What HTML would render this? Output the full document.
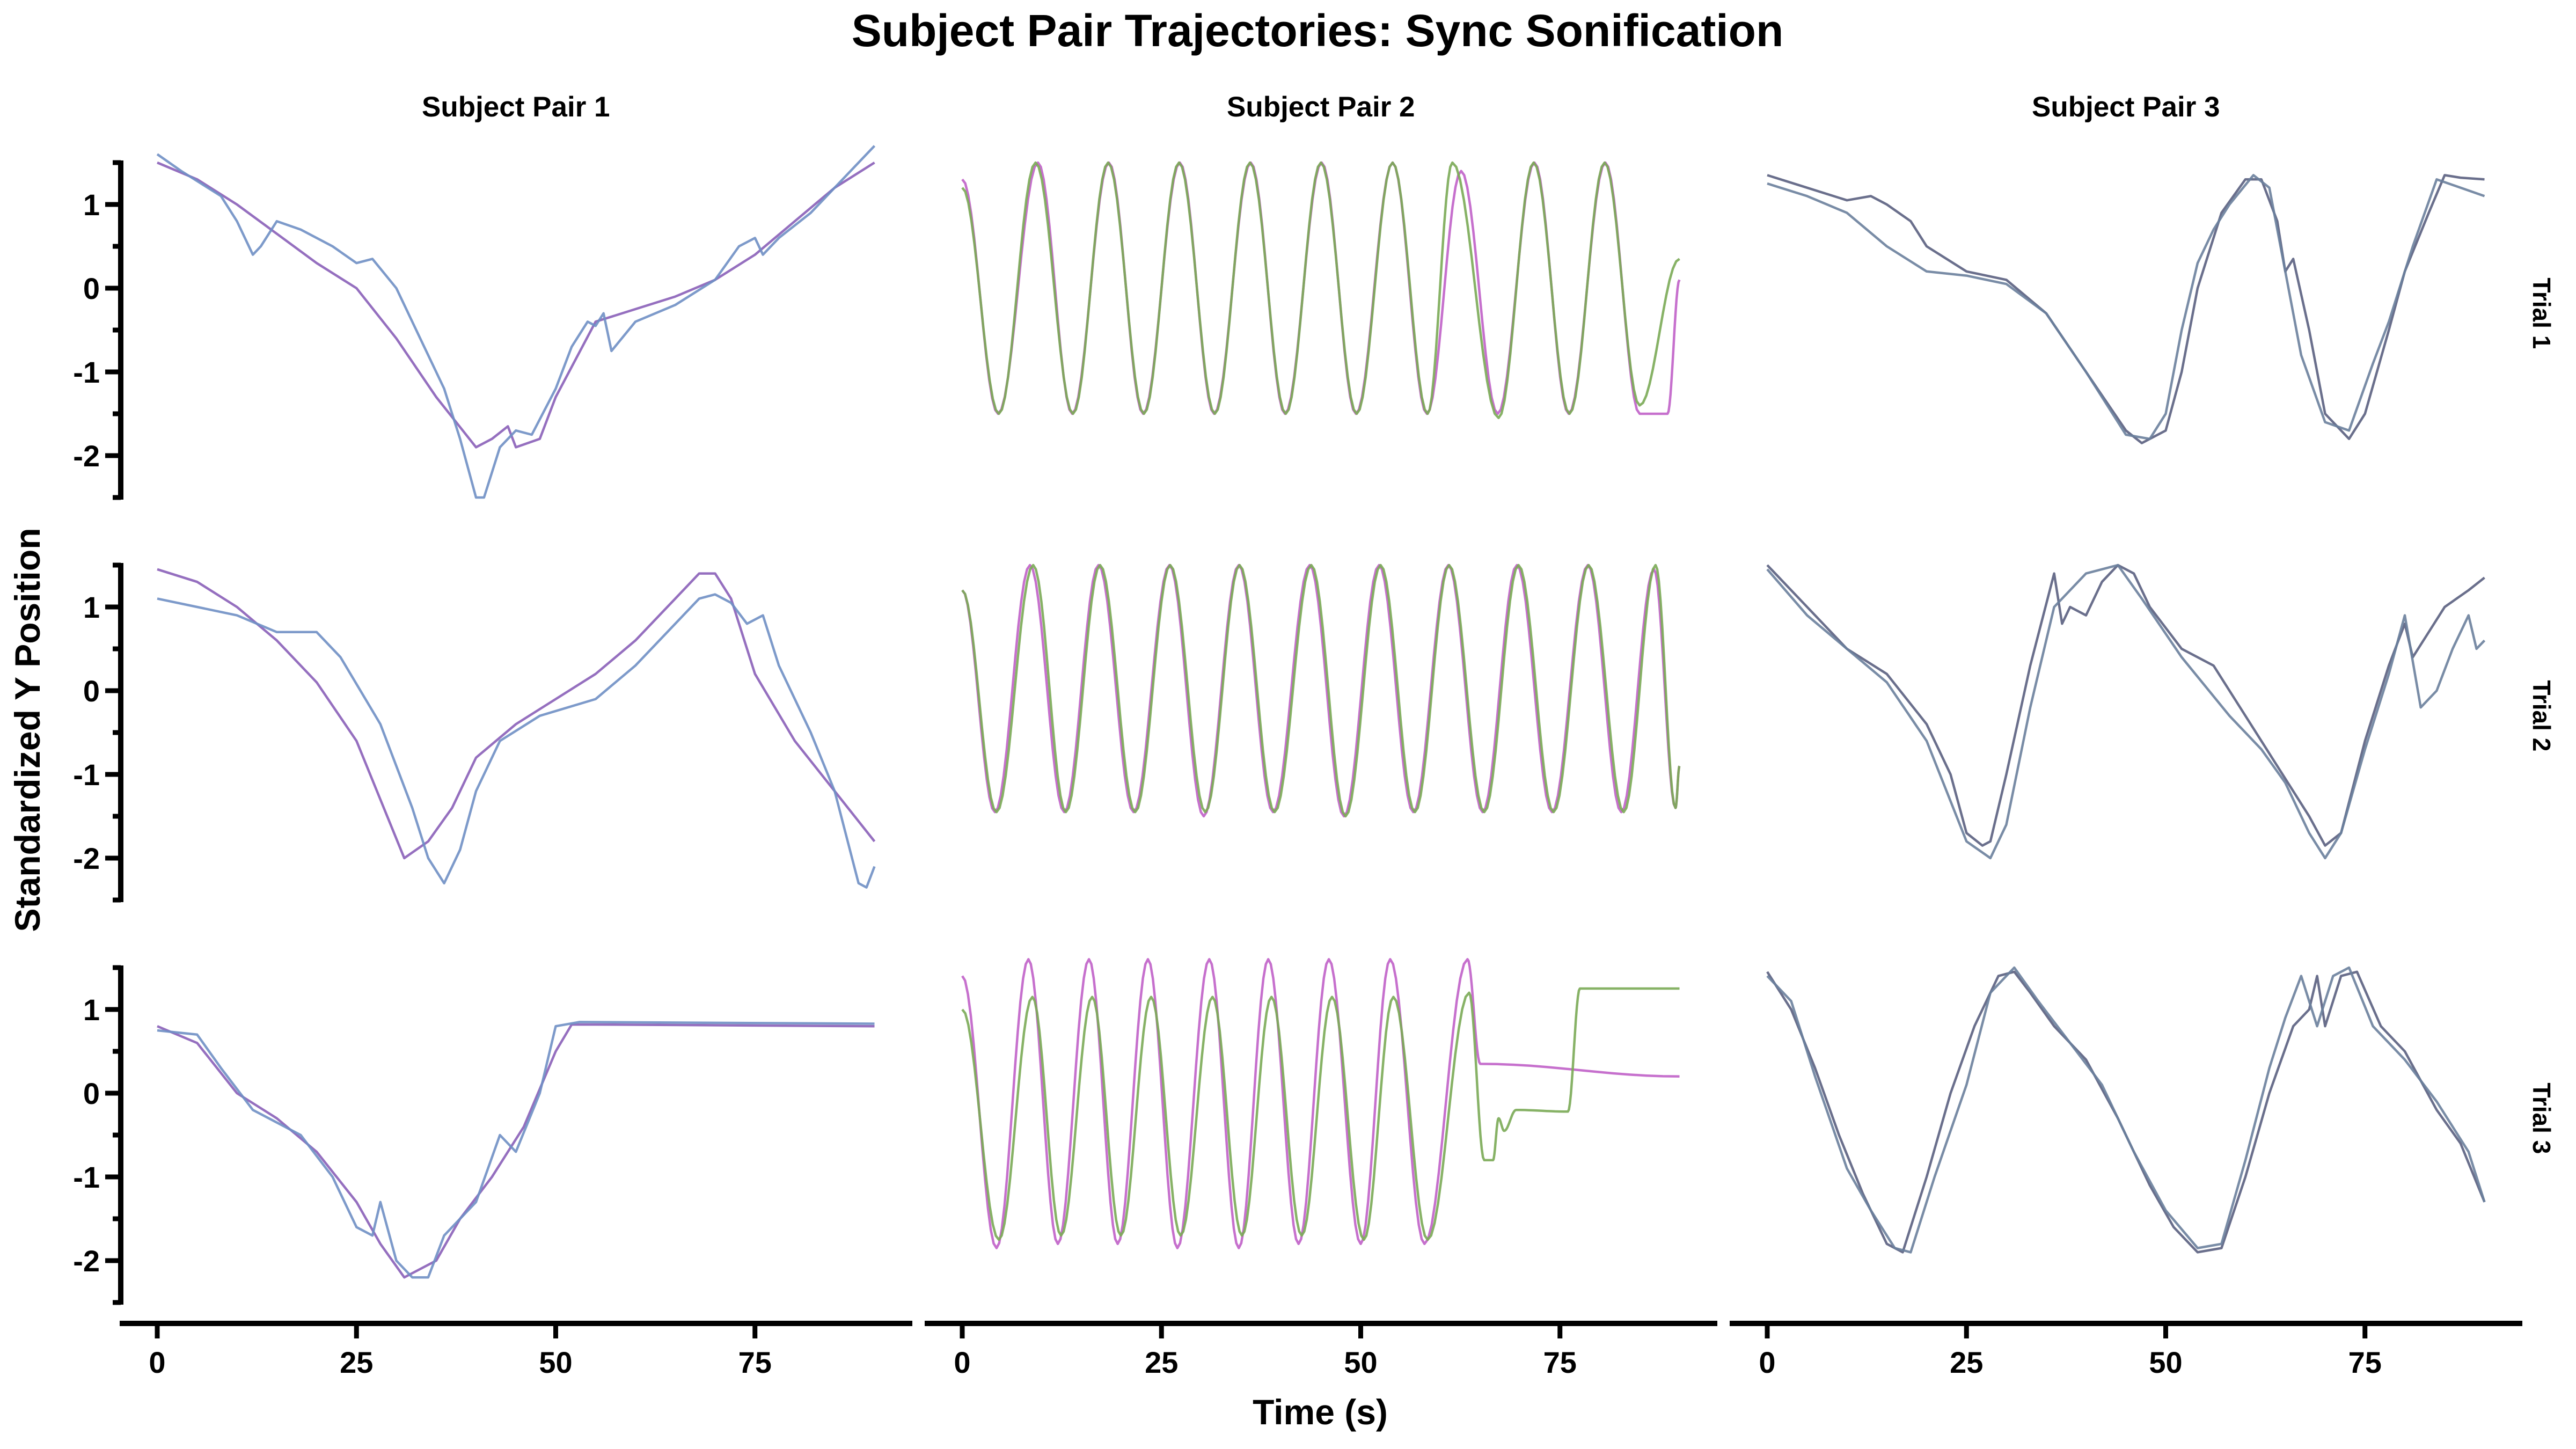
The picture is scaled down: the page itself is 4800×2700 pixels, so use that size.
<!DOCTYPE html>
<html><head><meta charset="utf-8"><style>
html,body{margin:0;padding:0;background:#fff;}
svg{display:block;font-family:"Liberation Sans",Arial,sans-serif;}
</style></head><body>
<svg id="chart" width="4800" height="2700" viewBox="0 0 4800 2700" xmlns="http://www.w3.org/2000/svg">
<text x="2455" y="86" text-anchor="middle" font-size="84" font-weight="bold">Subject Pair Trajectories: Sync Sonification</text>
<text transform="translate(74,1360) rotate(-90)" text-anchor="middle" font-size="66" font-weight="bold">Standardized Y Position</text>
<text x="2460" y="2654" text-anchor="middle" font-size="66" font-weight="bold">Time (s)</text>
<g id="panels"></g>
</svg>
<script>
const colTitles=["Subject Pair 1","Subject Pair 2","Subject Pair 3"];
const rowTitles=["Trial 1","Trial 2","Trial 3"];
const xTicks=[0,25,50,75];
const yTicks=[1,0,-1,-2];
const yMinor=[1.5,0.5,-0.5,-1.5,-2.5];
// Pair 1
const p1t1a=[[0,1.5],[5,1.3],[10,1.0],[15,0.65],[20,0.3],[25,0],[30,-0.6],[35,-1.3],[40,-1.9],[42,-1.8],[44,-1.65],[45,-1.9],[48,-1.8],[50,-1.3],[55,-0.4],[60,-0.25],[65,-0.1],[70,0.1],[75,0.4],[80,0.8],[85,1.2],[90,1.5]];
const p1t1b=[[0,1.6],[3,1.4],[8,1.1],[10,0.8],[12,0.4],[13,0.5],[15,0.8],[18,0.7],[22,0.5],[25,0.3],[27,0.35],[30,0.0],[33,-0.6],[36,-1.2],[38,-1.8],[40,-2.5],[41,-2.5],[43,-1.9],[45,-1.7],[47,-1.75],[50,-1.2],[52,-0.7],[54,-0.4],[55,-0.45],[56,-0.3],[57,-0.75],[60,-0.4],[65,-0.2],[70,0.1],[73,0.5],[75,0.6],[76,0.4],[78,0.6],[82,0.9],[86,1.3],[90,1.7]];
const p1t2a=[[0,1.45],[5,1.3],[10,1.0],[15,0.6],[20,0.1],[25,-0.6],[28,-1.3],[31,-2.0],[34,-1.8],[37,-1.4],[40,-0.8],[45,-0.4],[50,-0.1],[55,0.2],[60,0.6],[65,1.1],[68,1.4],[70,1.4],[72,1.1],[75,0.2],[80,-0.6],[85,-1.2],[90,-1.8]];
const p1t2b=[[0,1.1],[5,1.0],[10,0.9],[15,0.7],[20,0.7],[23,0.4],[28,-0.4],[32,-1.4],[34,-2.0],[36,-2.3],[38,-1.9],[40,-1.2],[43,-0.6],[48,-0.3],[55,-0.1],[60,0.3],[65,0.8],[68,1.1],[70,1.15],[72,1.05],[74,0.8],[76,0.9],[78,0.3],[82,-0.5],[85,-1.2],[88,-2.3],[89,-2.35],[90,-2.1]];
const p1t3a=[[0,0.8],[5,0.6],[10,0.0],[15,-0.3],[20,-0.7],[25,-1.3],[28,-1.8],[31,-2.2],[35,-2.0],[38,-1.5],[42,-1.0],[46,-0.4],[50,0.5],[52,0.82],[55,0.82],[90,0.8]];
const p1t3b=[[0,0.75],[5,0.7],[8,0.3],[12,-0.2],[18,-0.5],[22,-1.0],[25,-1.6],[27,-1.7],[28,-1.3],[30,-2.0],[32,-2.2],[34,-2.2],[36,-1.7],[40,-1.3],[43,-0.5],[45,-0.7],[48,0.0],[50,0.8],[53,0.85],[90,0.83]];
// Pair 2 (extrema; drawn with smooth interpolation)
const p2t1a=[[0,1.3],[4.5,-1.5],[9.5,1.5],[13.8,-1.5],[18.4,1.5],[22.7,-1.5],[27.3,1.5],[31.6,-1.5],[36.2,1.5],[40.5,-1.5],[45.1,1.5],[49.4,-1.5],[54,1.5],[58.3,-1.5],[62.6,1.4],[67.2,-1.5],[71.8,1.5],[76.1,-1.5],[80.7,1.5],[85,-1.5],[88.5,-1.5],[90,0.1]];
const p2t1b=[[0,1.2],[4.6,-1.5],[9.2,1.5],[13.9,-1.5],[18.3,1.5],[22.8,-1.5],[27.2,1.5],[31.7,-1.5],[36.1,1.5],[40.6,-1.5],[45,1.5],[49.5,-1.5],[54,1.5],[58.4,-1.5],[61.5,1.5],[67.3,-1.55],[71.7,1.5],[76.2,-1.5],[80.6,1.5],[85,-1.4],[90,0.35]];
const p2t2a=[[0,1.2],[4.1,-1.45],[8.5,1.5],[12.8,-1.45],[17.1,1.5],[21.5,-1.45],[26,1.5],[30.3,-1.5],[34.7,1.5],[39,-1.45],[43.6,1.5],[47.9,-1.5],[52.3,1.5],[56.6,-1.45],[61,1.5],[65.3,-1.45],[69.6,1.5],[74,-1.45],[78.5,1.5],[82.7,-1.45],[86.8,1.45],[89.5,-1.4],[90,-0.9]];
const p2t2b=[[0,1.2],[4.3,-1.45],[8.9,1.5],[13,-1.45],[17.3,1.5],[21.7,-1.45],[26.1,1.5],[30.5,-1.45],[34.8,1.5],[39.2,-1.45],[43.8,1.5],[48.1,-1.5],[52.5,1.5],[56.8,-1.45],[61.1,1.5],[65.5,-1.45],[69.8,1.5],[74.2,-1.45],[78.6,1.5],[83,-1.45],[87,1.5],[89.5,-1.4],[90,-0.9]];
const p2t3a=[[0,1.4],[4.3,-1.85],[8.3,1.6],[12,-1.8],[15.9,1.6],[19.5,-1.8],[23.3,1.6],[27,-1.85],[31,1.6],[34.7,-1.85],[38.4,1.6],[42.2,-1.8],[46,1.6],[50,-1.8],[53.7,1.6],[58,-1.8],[63.4,1.6],[65,0.35],[90,0.2]];
const p2t3b=[[0,1.0],[4.6,-1.75],[8.8,1.15],[12.4,-1.7],[16.3,1.15],[19.9,-1.7],[23.7,1.15],[27.4,-1.7],[31.4,1.15],[35.1,-1.7],[38.8,1.15],[42.6,-1.7],[46.4,1.15],[50.4,-1.75],[54.1,1.15],[58.4,-1.75],[63.6,1.2],[65.5,-0.8],[66.6,-0.8],[67.3,-0.3],[68,-0.45],[69.5,-0.2],[76,-0.22],[77.5,1.25],[90,1.25]];
// Pair 3
const p3t1a=[[0,1.35],[5,1.2],[10,1.05],[13,1.1],[15,1.0],[18,0.8],[20,0.5],[25,0.2],[30,0.1],[35,-0.3],[40,-1.0],[45,-1.7],[47,-1.85],[50,-1.7],[52,-1.0],[54,0.0],[57,0.9],[60,1.3],[62,1.3],[64,0.8],[65,0.2],[66,0.35],[68,-0.5],[70,-1.5],[73,-1.8],[75,-1.5],[78,-0.5],[80,0.2],[83,0.9],[85,1.35],[87,1.32],[90,1.3]];
const p3t1b=[[0,1.25],[5,1.1],[10,0.9],[15,0.5],[20,0.2],[25,0.15],[30,0.05],[35,-0.3],[40,-1.0],[45,-1.75],[48,-1.8],[50,-1.5],[52,-0.5],[54,0.3],[56,0.7],[58,1.0],[61,1.35],[63,1.2],[65,0.2],[67,-0.8],[70,-1.6],[73,-1.7],[76,-0.9],[78,-0.4],[81,0.5],[84,1.3],[87,1.2],[90,1.1]];
const p3t2a=[[0,1.5],[5,1.0],[10,0.5],[15,0.2],[20,-0.4],[23,-1.0],[25,-1.7],[27,-1.85],[28,-1.8],[30,-1.0],[33,0.3],[36,1.4],[37,0.8],[38,1.0],[40,0.9],[42,1.3],[44,1.5],[46,1.4],[48,1.0],[52,0.5],[56,0.3],[60,-0.3],[64,-0.9],[68,-1.5],[70,-1.85],[72,-1.7],[75,-0.6],[78,0.3],[80,0.8],[81,0.4],[83,0.7],[85,1.0],[88,1.2],[90,1.35]];
const p3t2b=[[0,1.45],[5,0.9],[10,0.5],[15,0.1],[20,-0.6],[25,-1.8],[28,-2.0],[30,-1.6],[33,-0.2],[36,1.0],[40,1.4],[44,1.5],[47,1.1],[52,0.4],[58,-0.3],[62,-0.7],[65,-1.1],[68,-1.7],[70,-2.0],[72,-1.7],[75,-0.7],[78,0.2],[80,0.9],[82,-0.2],[84,0.0],[86,0.5],[88,0.9],[89,0.5],[90,0.6]];
const p3t3a=[[0,1.45],[3,1.0],[6,0.3],[9,-0.5],[12,-1.2],[15,-1.8],[17,-1.9],[20,-1.0],[23,0.0],[26,0.8],[29,1.4],[31,1.45],[33,1.2],[36,0.8],[40,0.4],[44,-0.3],[48,-1.1],[51,-1.6],[54,-1.9],[57,-1.85],[60,-1.0],[63,0.0],[66,0.8],[68,1.0],[69,1.4],[70,0.8],[72,1.4],[74,1.45],[77,0.8],[80,0.5],[84,-0.2],[87,-0.6],[90,-1.3]];
const p3t3b=[[0,1.4],[3,1.1],[6,0.2],[10,-0.9],[13,-1.4],[16,-1.85],[18,-1.9],[21,-1.0],[25,0.1],[28,1.2],[31,1.5],[34,1.1],[38,0.6],[42,0.1],[46,-0.7],[50,-1.4],[54,-1.85],[57,-1.8],[60,-0.8],[63,0.3],[65,0.9],[67,1.4],[69,0.8],[71,1.4],[73,1.5],[76,0.8],[80,0.4],[84,-0.1],[88,-0.7],[90,-1.3]];

const series=[
 [[p1t1a,p1t1b],[p2t1a,p2t1b],[p3t1a,p3t1b]],
 [[p1t2a,p1t2b],[p2t2a,p2t2b],[p3t2a,p3t2b]],
 [[p1t3a,p1t3b],[p2t3a,p2t3b],[p3t3a,p3t3b]]
];
const colors=[["#8a5fb8","#6f8fc4"],["#c060c8","#7aaa55"],["#5a5f80","#6a7f9c"]];
const NS="http://www.w3.org/2000/svg";
const g=document.getElementById('panels');
const colX0=[293,1793,3293], xUnit=14.85;
const rowY0=[537,1287,2037], yUnit=156;
function sx(c,t){return colX0[c]+t*xUnit;}
function sy(r,v){return rowY0[r]-v*yUnit;}
function mk(tag,attrs,parent){const e=document.createElementNS(NS,tag);for(const k in attrs)e.setAttribute(k,attrs[k]);(parent||g).appendChild(e);return e;}
colTitles.forEach((t,c)=>{const e=mk('text',{x:sx(c,45),y:217,'text-anchor':'middle','font-size':53,'font-weight':'bold'});


e.textContent=t;});
rowTitles.forEach((t,r)=>{const e=mk('text',{transform:`translate(4720,${sy(r,-0.3)}) rotate(90)`,'text-anchor':'middle','font-size':46,'font-weight':'bold'});


e.textContent=t;});
for(let r=0;r<3;r++){
 const ax=mk('g',{});
 
 
 mk('line',{x1:225,x2:225,y1:sy(r,1.5)-4,y2:sy(r,-2.5)+4,stroke:'#000','stroke-width':10},ax);
 yTicks.forEach(v=>{mk('line',{x1:196,x2:225,y1:sy(r,v),y2:sy(r,v),stroke:'#000','stroke-width':9},ax);
  const tx=mk('text',{x:186,y:sy(r,v)+20,'text-anchor':'end','font-size':56,'font-weight':'bold'},ax);
  
  
  tx.textContent=v;});
 yMinor.forEach(v=>mk('line',{x1:210,x2:225,y1:sy(r,v),y2:sy(r,v),stroke:'#000','stroke-width':9},ax));
}
for(let c=0;c<3;c++){
 const ax=mk('g',{});
 
 
 mk('line',{x1:colX0[c]-70,x2:colX0[c]+1407,y1:2466,y2:2466,stroke:'#000','stroke-width':10},ax);
 xTicks.forEach(t=>{mk('line',{x1:sx(c,t),x2:sx(c,t),y1:2466,y2:2494,stroke:'#000','stroke-width':9},ax);
  const tx=mk('text',{x:sx(c,t),y:2558,'text-anchor':'middle','font-size':56,'font-weight':'bold'},ax);
  
  
  tx.textContent=t;});
}
function pathFor(r,c,pts,smooth){
 let d='';
 if(!smooth){pts.forEach((p,i)=>{d+=(i?'L':'M')+sx(c,p[0]).toFixed(1)+','+sy(r,p[1]).toFixed(1);});return d;}
 d='M'+sx(c,pts[0][0]).toFixed(1)+','+sy(r,pts[0][1]).toFixed(1);
 for(let i=1;i<pts.length;i++){const a=pts[i-1],b=pts[i];const n=12;
  for(let k=1;k<=n;k++){const f=k/n;const t=a[0]+(b[0]-a[0])*f;const w=(1-Math.cos(Math.PI*f))/2;const v=a[1]+(b[1]-a[1])*w;
   d+='L'+sx(c,t).toFixed(1)+','+sy(r,v).toFixed(1);}}
 return d;
}
for(let r=0;r<3;r++)for(let c=0;c<3;c++){
 series[r][c].forEach((pts,s)=>{
  const p=mk('path',{d:pathFor(r,c,pts,c===1),fill:'none',stroke:colors[c][s],'stroke-width':4.5,'stroke-linejoin':'round','stroke-opacity':0.9});
  
  
 });
}
</script>
</body></html>
